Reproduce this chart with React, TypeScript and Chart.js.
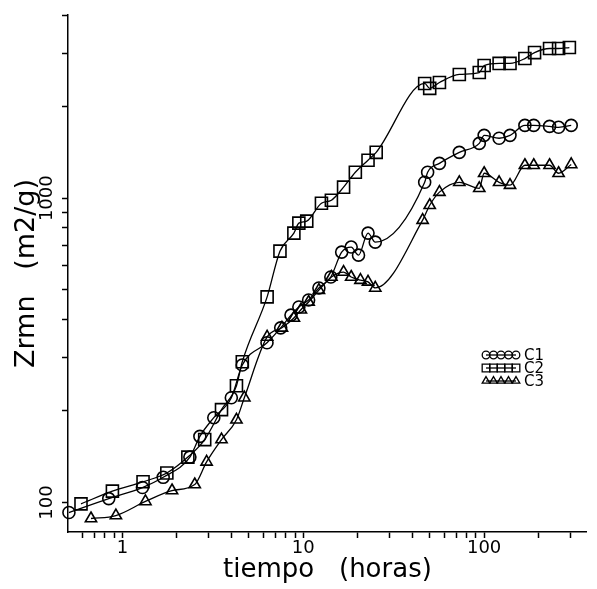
import React, { useEffect, useRef } from 'react';
import { Chart, registerables } from 'chart.js';

Chart.register(...registerables);

// ---- data (tiempo in horas, Zrmn in m2/g) ----
const seriesLabels = ['C1', 'C2', 'C3'];

const c1Time = [0.506, 0.84, 1.29, 1.68, 2.36, 2.68, 3.2, 4.0, 4.6, 6.3, 7.5, 8.55, 9.45, 10.7, 12.2, 14.2, 16.3, 18.4, 20.2, 22.8, 25.0, 46.9, 48.7, 56.6, 72.9, 94, 100, 121, 139, 168, 188, 230, 258, 303];
const c1Area = [92.7, 103, 112, 121, 141, 165, 190, 221, 283, 335, 375, 413, 439, 463, 507, 551, 665, 691, 650, 768, 717, 1128, 1217, 1302, 1415, 1514, 1609, 1574, 1609, 1735, 1735, 1722, 1710, 1735];

const c2Time = [0.59, 0.88, 1.30, 1.76, 2.30, 2.85, 3.53, 4.27, 4.60, 6.31, 7.43, 8.87, 9.45, 10.45, 12.6, 14.3, 16.7, 19.4, 22.8, 25.3, 46.9, 50.0, 56.6, 72.9, 94, 100, 121, 139, 168, 190, 230, 258, 296];
const c2Area = [99, 109, 117, 125, 141, 161, 202, 242, 290, 474, 670, 768, 828, 841, 963, 985, 1087, 1217, 1333, 1415, 2383, 2296, 2400, 2551, 2588, 2729, 2773, 2773, 2877, 3010, 3104, 3104, 3127];

const c3Time = [0.67, 0.92, 1.34, 1.88, 2.51, 2.92, 3.53, 4.27, 4.72, 6.31, 7.62, 8.87, 9.7, 10.7, 12.2, 14.3, 16.7, 18.4, 20.7, 22.8, 25.0, 45.7, 50, 56.6, 72.9, 94, 100, 121, 139, 168, 188, 230, 258, 303];
const c3Area = [88.6, 90.6, 100.8, 109.5, 114.6, 136, 161, 187, 221, 350, 375, 404, 430, 456, 499, 551, 572, 551, 538, 531, 507, 847, 948, 1047, 1128, 1078, 1208, 1128, 1104, 1283, 1283, 1283, 1208, 1291];

const xTickValues = [0.6, 0.7, 0.8, 0.9, 1, 2, 3, 4, 5, 6, 7, 8, 9, 10, 20, 30, 40, 50, 60, 70, 80, 90, 100, 200, 300];
const xTickLabels = [1, 10, 100];
const yTickValues = [100, 200, 300, 400, 500, 600, 700, 800, 900, 1000, 2000, 3000, 4000];
const yTickLabels = [100, 1000];

const xTitle = 'tiempo   (horas)';
const yTitle = 'Zrmn   (m2/g)';

const FONT = 'DejaVu Sans';

function drawMarker(ctx: CanvasRenderingContext2D, style: string, x: number, y: number, r: number) {
  ctx.beginPath();
  if (style === 'circle') {
    ctx.arc(x, y, r, 0, Math.PI * 2);
  } else if (style === 'rect') {
    const s = r / Math.SQRT2;
    ctx.rect(x - s, y - s, 2 * s, 2 * s);
  } else {
    const h = r * 1.5;
    const w = r * Math.sqrt(3);
    ctx.moveTo(x, y - r);
    ctx.lineTo(x + w / 2, y - r + h);
    ctx.lineTo(x - w / 2, y - r + h);
    ctx.closePath();
  }
  ctx.stroke();
}

export default function App() {
  const ref = useRef<HTMLCanvasElement>(null);

  useEffect(() => {
    const canvas = ref.current;
    if (!canvas) return;
    const toPts = (xs: number[], ys: number[]) => xs.map((x, i) => ({ x, y: ys[i] }));
    const styles = ['circle', 'rect', 'triangle'];
    const radii = [6, 8.5, 6.5];
    const series = [toPts(c1Time, c1Area), toPts(c2Time, c2Area), toPts(c3Time, c3Area)];

    const legendPlugin = {
      id: 'markerLegend',
      afterDraw(chart: any) {
        const ctx: CanvasRenderingContext2D = chart.ctx;
        const rowY = [355, 368, 381];
        const x0 = 486;
        const step = 7.5;
        const legendR = [3.8, 5.4, 4.4];
        ctx.save();
        ctx.strokeStyle = '#000';
        ctx.fillStyle = '#000';
        ctx.lineWidth = 1.3;
        ctx.font = `15px "${FONT}"`;
        ctx.textBaseline = 'middle';
        ctx.textAlign = 'left';
        chart.data.datasets.forEach((ds: any, i: number) => {
          const y = rowY[i];
          ctx.beginPath();
          ctx.moveTo(x0, y);
          ctx.lineTo(x0 + 4 * step, y);
          ctx.stroke();
          for (let k = 0; k < 5; k++) drawMarker(ctx, styles[i], x0 + k * step, y, legendR[i]);
          ctx.fillText(ds.label, x0 + 4 * step + 8, y + 1);
        });
        ctx.restore();
      },
    };

    const chart = new Chart(canvas, {
      type: 'line',
      data: {
        datasets: series.map((data, i) => ({
          label: seriesLabels[i],
          data,
          borderColor: '#000',
          borderWidth: 1.3,
          pointStyle: styles[i] as any,
          pointRadius: radii[i],
          pointBorderWidth: 1.6,
          pointBorderColor: '#000',
          pointBackgroundColor: 'rgba(0,0,0,0)',
          fill: false,
          cubicInterpolationMode: 'monotone' as const,
          clip: false as any,
        })),
      },
      options: {
        animation: false,
        responsive: false,
        maintainAspectRatio: false,
        layout: { padding: { top: 15, right: 5, left: 0, bottom: 0 } },
        plugins: { legend: { display: false }, tooltip: { enabled: false } },
        scales: {
          x: {
            type: 'logarithmic',
            min: 0.5,
            max: 370,
            afterBuildTicks: (s: any) => {
              s.ticks = xTickValues.map((v) => ({ value: v }));
            },
            afterFit: (s: any) => {
              s.height = 57;
            },
            ticks: {
              autoSkip: false,
              maxRotation: 0,
              minRotation: 0,
              padding: 0,
              color: '#000',
              font: { family: FONT, size: 18 },
              callback: (v: any) => (xTickLabels.includes(Number(v)) ? String(v) : ''),
            },
            grid: { drawOnChartArea: false, drawTicks: true, tickLength: 6, tickWidth: 1.5, tickColor: '#000' },
            border: { display: true, color: '#000', width: 1.5 },
            title: {
              display: true,
              text: xTitle,
              color: '#000',
              font: { family: FONT, size: 26, lineHeight: 1 },
              padding: { top: 0, bottom: 6 },
            },
          },
          y: {
            type: 'logarithmic',
            min: 80,
            max: 4000,
            afterBuildTicks: (s: any) => {
              s.ticks = yTickValues.map((v) => ({ value: v }));
            },
            afterFit: (s: any) => {
              s.width = 68;
            },
            ticks: {
              autoSkip: false,
              minRotation: 90,
              maxRotation: 90,
              crossAlign: 'center',
              padding: -8,
              color: '#000',
              font: { family: FONT, size: 18 },
              callback: (v: any) => (yTickLabels.includes(Number(v)) ? String(v) : ''),
            },
            grid: { drawOnChartArea: false, drawTicks: true, tickLength: 6, tickWidth: 1.5, tickColor: '#000' },
            border: { display: true, color: '#000', width: 1.5 },
            title: {
              display: true,
              text: yTitle,
              color: '#000',
              font: { family: FONT, size: 27, lineHeight: 1 },
              padding: { top: 13, bottom: 0 },
            },
          },
        },
      },
      plugins: [legendPlugin],
    });

    return () => chart.destroy();
  }, []);

  return (
    <div style={{ position: 'fixed', left: 0, top: 0, width: 597, height: 589, background: '#fff' }}>
      <canvas ref={ref} width={597} height={589} style={{ display: 'block' }} />
    </div>
  );
}
